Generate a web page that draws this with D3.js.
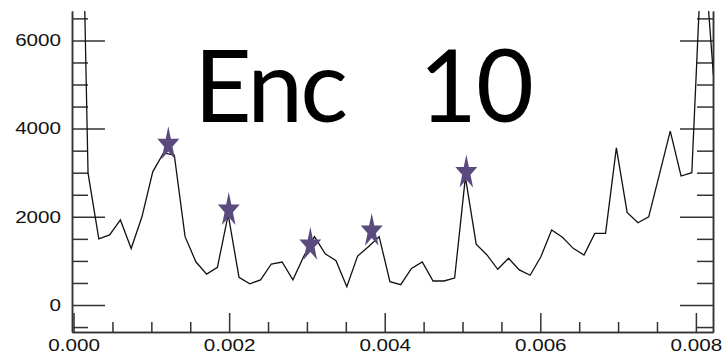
<!DOCTYPE html>
<html>
<head>
<meta charset="utf-8">
<script src="https://cdn.jsdelivr.net/npm/d3@7"></script>
<style>
  html, body { margin: 0; padding: 0; background: #fff; }
  svg { display: block; }
  .tick text { font-family: "Liberation Sans", Arial, sans-serif; font-size: 16.5px; fill: #111; }
  .axis path, .axis line { stroke: #333; stroke-width: 1.5; }
</style>
</head>
<body>
<svg width="723" height="354"></svg>
<script>
// sample times and amplitudes
const times = [0.0000476, 0.0001862, 0.0003248, 0.0004634, 0.000602, 0.0007406, 0.0008792, 0.0010178,
  0.0011564, 0.001295, 0.0014336, 0.0015722, 0.0017108, 0.0018494, 0.001988, 0.0021266, 0.0022652,
  0.0024038, 0.0025424, 0.002681, 0.0028196, 0.0029582, 0.0030968, 0.0032354, 0.003374, 0.0035126,
  0.0036512, 0.0037898, 0.0039284, 0.004067, 0.0042056, 0.0043442, 0.0044828, 0.0046214, 0.00476,
  0.0048986, 0.0050372, 0.0051758, 0.0053144, 0.005453, 0.0055916, 0.0057302, 0.0058688, 0.0060074,
  0.006146, 0.0062846, 0.0064232, 0.0065618, 0.0067004, 0.006839, 0.0069776, 0.0071162, 0.0072548,
  0.0073934, 0.007532, 0.0076706, 0.0078092, 0.0079478, 0.0080864, 0.008225];
const amplitude = [15200, 2990, 1500, 1590, 1930, 1280, 2000, 3020, 3450, 3400,
  1550, 980, 700, 855, 2050, 630, 480, 570, 930, 975,
  570, 1100, 1550, 1160, 1005, 415, 1110, 1320, 1550, 530,
  460, 830, 975, 545, 545, 610, 2900, 1380, 1135, 810,
  1060, 795, 675, 1095, 1700, 1535, 1285, 1135, 1625, 1625,
  3565, 2100, 1865, 2000, 2970, 3945, 2925, 3000, 8500, 5215];

// star markers
const peakTimes = [0.001218, 0.001995, 0.003044, 0.003833, 0.005049];
const peakValues = [3640, 2150, 1360, 1675, 3000];

const yMajorTicks = [0, 2000, 4000, 6000];
const yMinorTicks = [-500, 500, 1000, 1500, 2500, 3000, 3500, 4500, 5000, 5500, 6500];
const xMajorTicks = [0, 0.002, 0.004, 0.006, 0.008];
const xMinorTicks = [0.0005, 0.001, 0.0015, 0.0025, 0.003, 0.0035, 0.0045, 0.005, 0.0055, 0.0065, 0.007, 0.0075];
const title = 'Enc';
const title2 = '10';

const svg = d3.select('svg');
const plotLeft = 72, plotRight = 713, plotTop = 11, plotBottom = 332;

const x = d3.scaleLinear().domain([-0.00002, 0.00822]).range([plotLeft, plotRight]);
const y = d3.scaleLinear().domain([-612, 6667]).range([plotBottom, plotTop]);

const data = times.map((t, i) => ({ t: t, v: amplitude[i] }));
const peaks = peakTimes.map((t, i) => ({ t: t, v: peakValues[i] }));

// title
const tt = svg.append('text')
  .attr('y', 121.7)
  .attr('font-family', 'Lato, "Open Sans", sans-serif')
  .attr('font-size', '100px')
  .attr('fill', '#000');
tt.append('tspan').attr('x', 194).attr('letter-spacing', '-3px').text(title);
tt.append('tspan').attr('x', 419).attr('letter-spacing', '-1px').text(title2);

// left axis
const yMajor = svg.append('g').attr('class', 'axis')
  .attr('transform', `translate(${plotLeft},0)`)
  .call(d3.axisLeft(y).tickValues(yMajorTicks).tickSize(-33).tickSizeOuter(0).tickPadding(11).tickFormat(d3.format('d')));
yMajor.selectAll('.tick text')
  .attr('x', 0)
  .attr('transform', 'translate(-11,0) scale(1.25,1)');

svg.append('g').attr('class', 'axis')
  .attr('transform', `translate(${plotLeft},0)`)
  .call(d3.axisLeft(y).tickValues(yMinorTicks).tickSize(-16).tickSizeOuter(0).tickFormat(''));

// right axis
svg.append('g').attr('class', 'axis')
  .attr('transform', `translate(${plotRight},0)`)
  .call(d3.axisRight(y).tickValues(yMajorTicks).tickSize(-33).tickSizeOuter(0).tickFormat(''));
svg.append('g').attr('class', 'axis')
  .attr('transform', `translate(${plotRight},0)`)
  .call(d3.axisRight(y).tickValues(yMinorTicks).tickSize(-16).tickSizeOuter(0).tickFormat(''));

// bottom axis
const xMajor = svg.append('g').attr('class', 'axis')
  .attr('transform', `translate(0,${plotBottom})`)
  .call(d3.axisBottom(x).tickValues(xMajorTicks).tickSize(-19).tickSizeOuter(0).tickFormat(d3.format('.3f')));
xMajor.selectAll('.tick text')
  .attr('y', 19)
  .attr('dy', 0)
  .attr('transform', 'scale(1.25,1)');

svg.append('g').attr('class', 'axis')
  .attr('transform', `translate(0,${plotBottom})`)
  .call(d3.axisBottom(x).tickValues(xMinorTicks).tickSize(-10).tickSizeOuter(0).tickFormat(''));

// signal
svg.append('clipPath').attr('id', 'plot-clip')
  .append('rect')
  .attr('x', plotLeft).attr('y', plotTop)
  .attr('width', plotRight - plotLeft).attr('height', plotBottom - plotTop);

svg.append('path')
  .datum(data)
  .attr('clip-path', 'url(#plot-clip)')
  .attr('fill', 'none')
  .attr('stroke', '#111')
  .attr('stroke-width', 1.3)
  .attr('stroke-linejoin', 'miter')
  .attr('d', d3.line().x(d => x(d.t)).y(d => y(d.v)));

// peak stars
const star = d3.symbol().type(d3.symbolStar).size(165);
svg.selectAll('.peak')
  .data(peaks)
  .enter()
  .append('path')
  .attr('class', 'peak')
  .attr('d', star)
  .attr('fill', '#5a4a7d')
  .attr('transform', d => `translate(${x(d.t)},${y(d.v)}) scale(0.95,1.5)`);
</script>
</body>
</html>
